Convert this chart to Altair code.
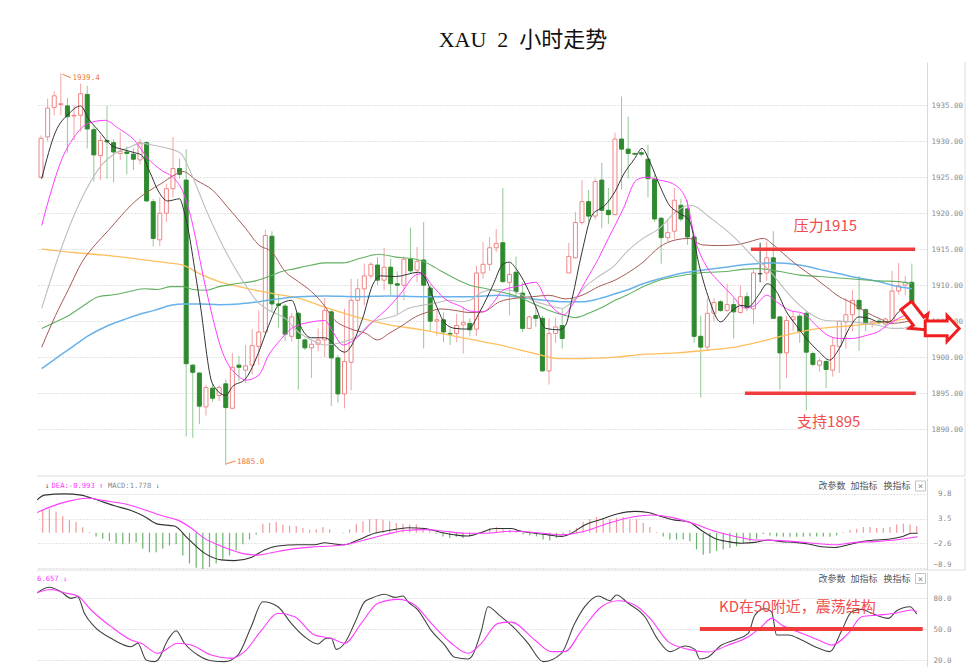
import altair as alt
import pandas as pd

# ---------------- candle data (2-hour bars) ----------------
OPEN = [1925.0, 1930.6, 1934.7, 1935.1, 1934.9, 1933.5, 1933.6, 1936.5, 1931.6, 1928.0,
        1930.1, 1929.8, 1928.3, 1928.5, 1928.2, 1927.4, 1929.8, 1921.6, 1916.3, 1920.0,
        1923.4, 1926.2, 1924.6, 1898.9, 1897.8, 1893.1, 1895.7, 1894.7, 1896.3, 1892.9,
        1898.9, 1898.2, 1898.9, 1901.5, 1903.5, 1916.8, 1907.4, 1907.1, 1902.9, 1906.1,
        1902.4, 1901.3, 1901.8, 1902.4, 1906.3, 1899.9, 1894.9, 1899.3, 1907.9, 1909.5,
        1911.3, 1912.8, 1910.7, 1912.5, 1910.2, 1910.0, 1913.6, 1912.1, 1913.5, 1909.6,
        1905.0, 1905.2, 1903.3, 1903.3, 1904.5, 1904.7, 1903.9, 1911.7, 1912.9, 1915.2,
        1915.9, 1910.4, 1911.8, 1908.9, 1904.0, 1905.8, 1905.4, 1898.1, 1903.3, 1904.4,
        1911.7, 1913.8, 1918.7, 1921.6, 1919.6, 1924.6, 1920.4, 1919.8, 1930.3, 1928.9,
        1928.3, 1928.4, 1927.5, 1924.7, 1919.3, 1916.6, 1917.5, 1921.1, 1920.6, 1916.7,
        1902.9, 1901.4, 1906.1, 1907.7, 1906.5, 1907.3, 1906.2, 1908.4, 1906.7, 1911.6,
        1911.7, 1913.8, 1905.6, 1900.6, 1905.2, 1905.7, 1906.1, 1900.5, 1898.9, 1899.4,
        1898.2, 1901.5, 1904.9, 1905.9, 1907.9, 1906.6, 1904.7, 1905.0, 1904.6, 1905.0,
        1909.2, 1910.0, 1910.4]
HIGH = [1930.8, 1935.9, 1936.9, 1939.4, 1936.0, 1935.0, 1938.0, 1937.7, 1932.0, 1930.8,
        1934.9, 1930.3, 1931.3, 1929.3, 1929.0, 1930.3, 1930.0, 1922.0, 1922.2, 1924.1,
        1930.6, 1927.6, 1928.9, 1899.0, 1897.9, 1896.1, 1896.3, 1896.1, 1896.9, 1900.6,
        1900.2, 1901.7, 1903.9, 1906.5, 1917.7, 1917.5, 1908.7, 1907.4, 1906.1, 1906.3,
        1902.6, 1902.4, 1904.0, 1908.2, 1906.7, 1900.3, 1906.7, 1910.9, 1910.9, 1913.0,
        1913.2, 1913.9, 1915.2, 1913.7, 1911.9, 1914.0, 1918.0, 1915.3, 1918.8, 1910.0,
        1906.5, 1906.2, 1904.0, 1906.0, 1906.9, 1905.4, 1912.7, 1916.0, 1916.7, 1917.8,
        1923.5, 1913.1, 1914.0, 1910.4, 1905.8, 1907.2, 1905.8, 1905.4, 1905.5, 1906.7,
        1915.9, 1920.2, 1924.6, 1923.2, 1924.8, 1927.0, 1923.5, 1931.2, 1936.2, 1933.4,
        1928.4, 1928.8, 1929.5, 1925.3, 1919.5, 1919.2, 1923.5, 1922.0, 1921.8, 1916.7,
        1905.8, 1908.2, 1908.2, 1907.9, 1910.2, 1908.2, 1910.0, 1909.0, 1912.1, 1915.9,
        1916.1, 1917.5, 1905.7, 1905.7, 1906.4, 1906.1, 1906.4, 1900.8, 1899.8, 1899.6,
        1902.8, 1905.0, 1908.2, 1909.3, 1911.3, 1906.8, 1905.0, 1905.3, 1905.5, 1912.0,
        1913.1, 1911.3, 1913.0]
LOW = [1924.8, 1930.0, 1933.6, 1933.6, 1928.4, 1930.1, 1931.3, 1929.0, 1924.4, 1924.6,
       1924.8, 1924.3, 1927.4, 1925.4, 1926.0, 1926.8, 1921.6, 1915.4, 1915.4, 1918.8,
       1922.2, 1924.8, 1889.0, 1888.8, 1890.7, 1891.9, 1893.8, 1893.9, 1885.0, 1892.9,
       1896.7, 1896.4, 1897.6, 1898.9, 1903.3, 1906.4, 1904.1, 1902.2, 1902.2, 1895.5,
       1901.0, 1897.1, 1900.8, 1900.0, 1893.2, 1893.7, 1892.9, 1895.4, 1903.5, 1907.2,
       1910.9, 1910.0, 1909.3, 1908.6, 1906.0, 1907.9, 1911.7, 1910.4, 1901.2, 1903.5,
       1903.0, 1902.1, 1901.7, 1902.1, 1900.5, 1902.9, 1903.0, 1910.9, 1912.0, 1914.6,
       1910.3, 1905.8, 1908.2, 1903.5, 1904.0, 1904.2, 1898.0, 1896.2, 1902.0, 1901.2,
       1911.7, 1913.7, 1918.4, 1918.8, 1919.1, 1917.9, 1918.5, 1919.8, 1923.3, 1924.8,
       1928.0, 1927.9, 1922.2, 1918.8, 1913.0, 1916.0, 1916.4, 1918.8, 1915.6, 1902.0,
       1894.4, 1900.9, 1905.0, 1906.3, 1906.3, 1902.6, 1906.1, 1906.4, 1904.6, 1910.4,
       1910.6, 1905.4, 1895.5, 1897.1, 1903.6, 1902.0, 1892.6, 1898.7, 1898.0, 1895.7,
       1897.3, 1897.8, 1901.2, 1903.6, 1900.9, 1903.6, 1904.1, 1904.5, 1904.0, 1904.5,
       1908.7, 1908.6, 1906.5]
CLOSE = [1930.4, 1934.6, 1936.3, 1935.2, 1933.4, 1933.6, 1936.6, 1931.7, 1928.1, 1930.1,
         1929.9, 1928.5, 1928.6, 1928.3, 1927.5, 1929.8, 1921.7, 1916.5, 1920.0, 1923.4,
         1926.2, 1925.4, 1899.1, 1897.9, 1893.2, 1895.8, 1894.3, 1895.8, 1893.0, 1898.6,
         1898.6, 1898.8, 1901.6, 1903.5, 1916.9, 1907.4, 1907.2, 1903.2, 1905.6, 1902.6,
         1901.3, 1901.8, 1902.4, 1906.5, 1899.9, 1894.9, 1899.4, 1907.9, 1909.5, 1911.3,
         1912.9, 1910.7, 1912.5, 1910.2, 1910.0, 1913.6, 1912.0, 1913.3, 1910.0, 1905.0,
         1905.2, 1903.5, 1903.2, 1904.4, 1904.8, 1903.8, 1911.7, 1912.9, 1915.2, 1915.8,
         1910.5, 1911.5, 1909.1, 1904.0, 1905.6, 1905.4, 1898.1, 1903.3, 1904.2, 1902.6,
         1914.0, 1918.7, 1921.6, 1919.6, 1924.4, 1920.4, 1919.8, 1930.3, 1928.9, 1928.3,
         1928.2, 1928.2, 1924.8, 1919.2, 1916.6, 1917.3, 1921.8, 1919.2, 1916.7, 1902.9,
         1901.4, 1906.1, 1907.6, 1906.5, 1907.3, 1906.3, 1908.4, 1906.9, 1911.7, 1911.6,
         1913.8, 1905.4, 1900.6, 1905.1, 1905.6, 1903.6, 1900.7, 1899.0, 1899.5, 1898.3,
         1901.6, 1905.0, 1905.9, 1907.9, 1906.7, 1904.6, 1904.9, 1904.8, 1905.3, 1909.2,
         1909.9, 1910.4, 1906.7]

# ---------------- moving averages ----------------
MA5_I = [0.1, 2.2, 4.2, 6.0, 7.2, 8.7, 10.7, 12.2, 14.2, 15.2, 16.5, 17.7, 19.2, 21.0, 21.7, 24.0, 26.0, 28.0,
         29.0, 31.0, 33.0, 34.5, 36.0, 38.0, 39.5, 41.0, 43.0, 46.0, 48.75, 50.25, 51.5, 53.75, 57.25, 58.25,
         59.75, 61.25, 62.75, 64.75, 66.5, 68.5, 70.0, 71.0, 72.0, 73.5, 75.0, 76.5, 78.5, 79.5, 80.5, 82.0,
         83.5, 85.5, 87.0, 88.25, 90.0, 91.1, 92.25, 93.75, 95.25, 96.75, 98.25, 99.75, 101.25, 103.0, 104.75,
         106.25, 107.25, 108.75, 110.1, 111.5, 113.0, 114.5, 116.0, 118.0, 119.5, 121.0, 122.5, 124.0, 125.5,
         127.0, 128.5, 130.0, 132.0]
MA5_V = [1924.8, 1931.3, 1933.8, 1934.9, 1933.1, 1931.5, 1929.4, 1928.9, 1928.4, 1928.1, 1925.7, 1923.2,
         1921.7, 1922.0, 1920.2, 1908.1, 1896.3, 1894.7, 1895.9, 1897.0, 1900.7, 1904.4, 1907.2, 1907.9,
         1904.0, 1902.7, 1902.7, 1900.7, 1905.4, 1910.0, 1911.3, 1911.2, 1911.8, 1911.0, 1907.5, 1904.7,
         1904.0, 1903.9, 1906.3, 1910.0, 1912.9, 1913.2, 1912.3, 1910.0, 1907.0, 1904.0, 1903.8, 1904.4,
         1908.1, 1914.6, 1919.7, 1921.1, 1923.0, 1925.3, 1927.6, 1929.0, 1927.2, 1923.9, 1921.1, 1920.0,
         1919.0, 1912.8, 1908.1, 1904.9, 1906.5, 1907.2, 1907.0, 1908.6, 1910.2, 1909.1, 1906.3, 1904.4,
         1902.6, 1900.7, 1899.6, 1901.2, 1904.0, 1905.6, 1905.4, 1904.9, 1904.9, 1906.3, 1907.9]
MA10_I = [0.1, 1.2, 3.2, 5.2, 7.2, 9.7, 11.7, 14.2, 16.2, 18.2, 20.2, 21.5, 22.5, 25.0, 27.5, 30.0, 31.0, 33.0,
          34.5, 36.0, 38.0, 41.0, 43.0, 44.25, 45.75, 47.75, 50.25, 52.75, 54.75, 56.75, 57.75, 59.25, 61.25,
          63.75, 65.0, 67.0, 68.5, 70.0, 72.0, 75.0, 76.5, 78.0, 79.25, 80.5, 82.5, 84.5, 86.0, 87.0, 88.25,
          90.25, 91.75, 93.75, 95.75, 97.75, 99.25, 100.75, 102.75, 104.75, 106.75, 108.25, 110.0, 111.5,
          113.5, 115.5, 117.5, 119.0, 121.0, 123.0, 125.0, 127.0, 128.5, 130.0, 132.0]
MA10_V = [1918.3, 1922.0, 1927.6, 1930.8, 1932.5, 1932.9, 1931.8, 1930.1, 1927.6, 1926.0, 1924.8, 1923.0,
          1920.2, 1909.5, 1900.7, 1897.3, 1896.8, 1897.5, 1900.3, 1902.1, 1904.0, 1904.9, 1905.1, 1903.5,
          1901.7, 1902.6, 1904.9, 1907.0, 1909.1, 1911.4, 1911.6, 1910.0, 1908.1, 1907.0, 1906.4, 1906.3,
          1907.5, 1909.3, 1909.8, 1910.4, 1908.1, 1906.5, 1905.9, 1907.2, 1910.5, 1913.7, 1916.5, 1918.3,
          1920.6, 1924.6, 1925.0, 1924.6, 1924.1, 1922.0, 1916.0, 1912.8, 1910.5, 1908.6, 1906.8, 1907.2,
          1908.6, 1907.7, 1906.5, 1906.1, 1904.4, 1903.2, 1902.6, 1902.6, 1903.0, 1903.6, 1904.6, 1905.4,
          1906.3]
MA20_I = [0.1, 2.2, 4.2, 6.7, 9.2, 11.2, 13.2, 15.2, 17.2, 19.7, 21.2, 23.0, 25.0, 27.0, 29.0, 31.0, 33.0,
          35.0, 37.0, 39.0, 41.0, 43.0, 45.75, 47.75, 50.25, 52.25, 53.75, 55.75, 57.75, 59.75, 61.75, 63.75,
          65.0, 67.0, 69.0, 71.0, 73.0, 75.0, 77.0, 79.0, 80.5, 82.5, 84.5, 87.0, 88.75, 91.25, 93.75, 96.25,
          98.25, 99.25, 101.25, 103.25, 105.25, 107.25, 108.75, 109.5, 111.0, 113.0, 115.0, 117.0, 119.0,
          121.0, 123.0, 125.0, 127.0, 129.0, 130.5, 132.0]
MA20_V = [1906.8, 1912.8, 1917.9, 1923.0, 1926.7, 1928.3, 1929.1, 1929.7, 1929.4, 1928.9, 1928.3, 1925.0,
          1920.5, 1916.5, 1913.0, 1910.0, 1907.5, 1906.3, 1905.4, 1903.5, 1902.4, 1901.7, 1902.1, 1902.8,
          1904.9, 1905.4, 1905.8, 1906.8, 1907.2, 1907.5, 1907.9, 1907.7, 1907.9, 1909.1, 1909.4, 1909.3,
          1908.6, 1907.7, 1907.2, 1906.8, 1907.7, 1909.8, 1911.2, 1912.8, 1914.6, 1916.5, 1917.9, 1920.2,
          1921.1, 1920.9, 1919.5, 1918.1, 1916.5, 1914.6, 1913.2, 1912.8, 1911.4, 1909.1, 1907.2, 1905.8,
          1905.1, 1905.0, 1904.9, 1904.7, 1904.4, 1904.0, 1904.0, 1904.4]
MA30_I = [0.1, 2.2, 4.2, 6.2, 8.2, 10.2, 12.2, 14.2, 16.2, 18.2, 20.2, 21.5, 23.5, 26.0, 28.5, 31.0, 33.0,
          35.0, 37.0, 39.0, 41.0, 43.0, 44.25, 46.75, 49.25, 51.0, 52.75, 54.75, 56.75, 58.75, 60.75, 62.75,
          65.0, 67.0, 69.5, 72.0, 74.5, 77.0, 79.5, 82.0, 84.5, 87.0, 88.75, 91.25, 93.75, 96.25, 98.25,
          100.25, 102.75, 105.25, 107.25, 109.5, 111.0, 113.0, 115.0, 117.0, 119.0, 121.0, 123.0, 125.0,
          127.0, 129.0, 131.0, 132.0]
MA30_V = [1901.4, 1905.8, 1909.5, 1913.2, 1915.6, 1917.6, 1919.7, 1921.6, 1923.0, 1924.1, 1925.3, 1925.8,
          1924.6, 1923.2, 1920.6, 1917.9, 1915.6, 1914.6, 1911.9, 1910.5, 1909.1, 1907.1, 1905.4, 1904.0,
          1903.3, 1902.4, 1903.3, 1904.4, 1905.6, 1906.3, 1906.7, 1906.5, 1906.2, 1906.3, 1907.7, 1908.2,
          1908.4, 1908.6, 1908.1, 1908.6, 1909.8, 1910.7, 1911.6, 1913.2, 1915.3, 1916.3, 1916.5, 1915.6,
          1915.5, 1915.6, 1916.0, 1916.5, 1915.6, 1914.0, 1912.5, 1911.2, 1909.8, 1908.4, 1907.5, 1906.3,
          1905.4, 1904.7, 1904.9, 1905.1]
MA60_I = [0.1, 2.2, 4.2, 6.2, 8.7, 11.2, 13.7, 15.7, 17.7, 19.7, 21.5, 23.0, 25.0, 27.0, 29.5, 32.5, 34.5,
          36.5, 38.5, 41.0, 43.2, 45.75, 48.25, 51.25, 53.75, 56.25, 58.25, 60.75, 63.25, 65.0, 67.0, 69.5,
          72.0, 74.5, 77.0, 79.5, 81.0, 83.0, 85.0, 87.0, 88.75, 91.25, 93.75, 96.25, 98.75, 101.25, 103.75,
          106.25, 108.75, 110.0, 112.0, 115.0, 118.0, 121.0, 124.0, 127.0, 130.0, 132.0]
MA60_V = [1904.0, 1904.9, 1905.8, 1907.0, 1908.4, 1908.7, 1909.2, 1909.5, 1909.4, 1909.8, 1909.8, 1909.4,
          1909.3, 1909.8, 1910.2, 1910.6, 1911.2, 1911.9, 1912.3, 1912.8, 1913.1, 1913.1, 1913.7, 1914.3,
          1913.9, 1913.7, 1913.2, 1911.9, 1910.7, 1910.0, 1909.6, 1909.1, 1908.5, 1907.5, 1906.5, 1905.8,
          1905.5, 1906.1, 1906.9, 1907.9, 1908.6, 1909.8, 1910.7, 1911.2, 1911.6, 1911.8, 1911.9, 1912.2,
          1912.3, 1912.2, 1911.9, 1911.4, 1911.2, 1911.0, 1910.8, 1910.6, 1910.5, 1910.2]
MA120_I = [0.1, 2.2, 4.7, 7.2, 9.7, 12.2, 14.7, 17.2, 19.7, 21.5, 24.0, 27.0, 30.0, 33.0, 36.0, 39.0, 43.2,
           47.75, 52.75, 57.75, 65.0, 69.5, 74.5, 79.5, 82.0, 84.5, 87.0, 88.75, 91.25, 93.75, 96.25, 98.75,
           101.25, 103.75, 106.25, 108.75, 110.0, 112.0, 115.0, 118.0, 121.0, 124.0, 127.0, 129.0, 132.0]
MA120_V = [1898.4, 1899.8, 1901.4, 1903.0, 1904.2, 1905.1, 1905.9, 1906.5, 1907.2, 1907.4, 1907.4, 1907.3,
           1907.4, 1907.7, 1908.1, 1908.4, 1908.5, 1908.4, 1908.5, 1908.4, 1908.4, 1908.6, 1908.1, 1907.7,
           1907.7, 1908.1, 1908.8, 1909.3, 1910.2, 1910.9, 1911.5, 1911.9, 1912.2, 1912.5, 1912.8, 1913.0,
           1913.1, 1913.1, 1912.8, 1912.2, 1911.6, 1911.0, 1910.5, 1910.0, 1909.5]
MA250_I = [0.1, 4.2, 9.2, 14.2, 19.2, 21.5, 24.0, 27.0, 30.0, 33.0, 36.0, 39.0, 43.2, 47.75, 52.75, 57.75,
           65.0, 69.5, 74.5, 78.5, 82.0, 87.0, 91.25, 96.25, 101.25, 105.25, 108.75, 113.0, 118.0, 123.0,
           128.0, 132.0]
MA250_V = [1915.0, 1914.6, 1914.2, 1913.7, 1913.1, 1912.8, 1911.6, 1910.5, 1909.8, 1909.2, 1908.7, 1908.2,
           1906.9, 1905.6, 1904.5, 1903.8, 1902.5, 1901.7, 1900.6, 1899.8, 1899.8, 1900.0, 1900.4, 1900.6,
           1901.0, 1901.4, 1902.1, 1903.1, 1904.0, 1904.4, 1904.9, 1905.5]

# ---------------- MACD ----------------
HIST = [5.6, 5.9, 6.0, 5.4, 4.2, 3.2, 2.7, 1.4, 0.2, -0.9, -1.5, -2.1, -2.7, -2.9, -2.7, -2.4, -4.0, -4.9,
        -4.9, -4.0, -3.2, -2.9, -5.7, -7.7, -8.8, -9.1, -8.6, -7.7, -6.5, -5.7, -4.4, -2.9, -1.7, -0.4, 2.3,
        2.5, 2.7, 2.1, 1.8, 1.7, 1.2, 0.8, 0.9, 1.5, 0.9, 0.1, -0.1, 0.9, 2.3, 2.9, 3.5, 3.5, 3.3, 2.9, 2.5,
        2.3, 2.1, 2.1, 1.2, 0.7, -0.2, -0.9, -1.3, -1.0, -1.3, -0.9, 0.0, 0.4, 1.2, 1.5,
        1.0, 0.8, 0.6, -0.4, -0.7, -0.9, -1.7, -1.9, -1.3, -0.4, 0.7, 1.2, 2.7, 3.5, 4.0, 3.8, 3.5, 3.8, 4.0,
        3.5, 3.5, 2.5, 1.5, 0.2, -0.9, -1.7, -1.7, -1.7, -2.1, -4.2, -5.5, -5.2, -4.6, -4.2, -3.8, -3.4, -2.7,
        -2.1, -1.5, -0.3, -0.7, -0.9, -1.0, -1.0, -1.0, -1.0, -0.9, -0.9, -0.9, -1.0, -0.7, 0.2, 0.7, 1.0,
        1.5, 1.5, 1.2, 1.2, 1.5, 2.1, 2.3, 2.1, 1.7]
DIF_I = [0.15, 1.25, 4.25, 6.75, 8.75, 11.75, 14.25, 16.25, 18.25, 20.75, 22.75, 25.25, 27.75, 29.75, 32.25,
         34.25, 36.25, 39.25, 41.75, 43.25, 44.75, 46.25, 48.25, 50.75, 53.25, 55.75, 58.25, 60.75, 62.75,
         64.75, 66.75, 68.75, 71.25, 72.25, 74.75, 76.75, 78.75, 80.25, 82.25, 84.75, 87.25, 89.75, 91.75,
         93.75, 95.75, 97.75, 99.75, 101.75, 103.75, 105.75, 107.75, 109.75, 111.75, 113.75, 115.75, 117.75,
         119.75, 121.75, 123.75, 125.75, 127.75, 129.75, 131.25, 132.15]
DIF_V = [8.3, 9.5, 9.8, 9.5, 8.5, 6.8, 5.6, 4.1, 2.2, 1.7, -1.4, -5.1, -6.8, -7.0, -6.2, -4.3, -3.3, -3.0,
         -3.0, -2.5, -2.8, -3.0, -1.8, -0.1, 0.7, 1.3, 1.1, 0.1, -0.5, -0.8, 0.1, 1.1, 1.1, 0.6, -0.1, -0.5,
         -0.9, -0.1, 2.0, 3.4, 4.8, 5.4, 5.1, 4.1, 3.2, 2.8, 0.6, -1.4, -2.2, -2.6, -2.4, -1.8, -2.2, -2.4,
         -2.8, -3.5, -3.7, -3.0, -2.2, -1.8, -1.6, -1.0, -0.1, -0.1]
DEA_I = [0.15, 2.25, 5.25, 7.75, 10.25, 13.25, 16.25, 19.25, 21.25, 23.25, 25.25, 27.25, 29.25, 31.25, 33.25,
         35.25, 38.25, 41.25, 44.25, 46.25, 49.25, 52.25, 55.25, 58.25, 61.25, 64.25, 67.25, 71.25, 74.75,
         78.75, 82.25, 85.75, 89.75, 92.25, 95.75, 98.75, 101.75, 104.75, 107.75, 110.75, 113.75, 117.75,
         119.75, 122.75, 125.75, 128.75, 132.15]
DEA_V = [5.1, 6.6, 8.1, 8.7, 8.1, 7.3, 5.8, 4.1, 3.2, 1.2, -1.4, -3.0, -4.3, -5.3, -5.6, -5.0, -4.1, -3.6,
         -3.3, -3.0, -1.8, -0.5, 0.6, 0.8, 0.4, -0.1, -0.1, 0.4, 0.1, -0.5, 0.4, 2.4, 4.1, 4.5, 3.7, 2.2, 0.4,
         -0.9, -1.8, -1.9, -2.2, -2.8, -3.0, -2.4, -2.2, -1.8, -1.0]

# ---------------- KD ----------------
K_I = [0.15, 2.0, 3.75, 5.25, 6.25, 7.25, 8.75, 11.25, 14.25, 15.25, 16.5, 17.75, 18.25, 19.75, 21.0, 22.25,
       24.25, 26.25, 28.25, 30.25, 32.25, 34.0, 36.25, 38.25, 40.25, 42.25, 43.5, 44.25, 45.0, 46.25, 47.75,
       49.25, 50.25, 52.25, 53.75, 55.0, 55.75, 57.25, 59.25, 61.25, 62.75, 64.75, 65.25, 66.75, 67.75, 69.5,
       71.5, 73.75, 76.0, 78.75, 80.75, 82.25, 84.25, 86.0, 87.0, 88.75, 91.25, 93.25, 95.0, 97.25, 98.75,
       99.5, 100.75, 102.75, 104.75, 106.75, 107.75, 109.25, 110.25, 111.0, 112.75, 114.75, 116.75, 119.0,
       120.75, 122.25, 123.75, 125.25, 127.75, 129.0, 131.0, 132.0]
K_V = [85.1, 90.4, 86.1, 79.7, 81.3, 65.2, 52.3, 41.0, 32.9, 36.2, 20.0, 18.4, 20.0, 39.4, 48.4, 36.2, 24.8,
       19.3, 18.4, 24.8, 52.3, 76.4, 71.6, 55.5, 42.5, 35.5, 41.0, 41.0, 30.3, 36.2, 55.5, 76.4, 79.7, 83.6,
       80.6, 82.0, 76.4, 68.4, 48.4, 34.5, 22.6, 21.0, 23.0, 48.4, 71.6, 63.0, 52.0, 36.2, 18.4, 26.5, 55.5,
       71.6, 82.0, 77.4, 83.0, 75.0, 61.9, 39.4, 28.1, 33.5, 30.3, 21.0, 23.0, 34.5, 39.4, 45.8, 63.5, 69.8,
       66.7, 44.2, 44.2, 39.4, 32.9, 28.1, 48.4, 66.7, 69.0, 65.2, 60.3, 67.7, 71.6, 64.5]
D_I = [0.15, 2.25, 4.25, 6.25, 8.25, 11.25, 14.25, 15.75, 18.25, 21.25, 23.25, 26.25, 29.25, 31.25, 33.75,
       36.25, 38.75, 41.75, 44.25, 46.25, 48.75, 51.25, 54.25, 56.75, 59.25, 62.25, 64.75, 66.75, 69.25,
       71.25, 74.75, 77.25, 79.25, 81.75, 84.75, 87.25, 89.75, 92.25, 94.75, 97.75, 100.75, 103.75, 106.75,
       108.75, 110.25, 111.75, 114.75, 117.25, 119.25, 121.75, 123.75, 126.25, 128.75, 131.25, 132.0]
D_V = [85.1, 88.3, 85.1, 82.0, 68.4, 52.3, 39.4, 36.2, 26.5, 36.2, 34.5, 24.8, 21.6, 28.1, 48.4, 65.2, 61.9,
       44.2, 41.0, 36.2, 55.5, 75.0, 78.7, 73.3, 55.5, 36.2, 26.5, 36.2, 55.5, 56.7, 39.4, 28.1, 28.1, 48.4,
       71.6, 77.4, 73.3, 58.7, 37.8, 30.3, 27.8, 34.5, 42.5, 52.3, 60.3, 53.9, 45.8, 39.4, 34.5, 45.8, 61.9,
       63.5, 65.2, 68.4, 66.7]

# ---------------- annotations ----------------
PRICE_TICKS = [1890, 1895, 1900, 1905, 1910, 1915, 1920, 1925, 1930, 1935]
MACD_TICKS = [9.8, 3.5, -2.6, -8.9]
KD_TICKS = [20, 50, 80]
LEVEL_X1 = [107.6, 106.7]
LEVEL_X2 = [132.5, 132.6]
LEVEL_Y = [1915, 1895]
LEVEL_TEXT = ["压力1915", "支持1895"]
LEVEL_TEXT_X = [118.9, 119.4]
LEVEL_TEXT_Y = [1918.2, 1891.0]
EXT_TEXT = ["1939.4", "1885.0"]
EXT_X1 = [3.25, 28.1]
EXT_Y1 = [1939.3, 1885.2]
EXT_X2 = [4.5, 29.5]
EXT_Y2 = [1938.8, 1885.6]
EXT_TX = [4.75, 29.7]
EXT_TY = [1938.75, 1885.4]
ARROW_X = [132.6, 136.6]
ARROW_Y = [1905.5, 1904.0]
ARROW_ANGLE = [52, 0]
ARROW_SIZE = [950, 1150]
KD_LINE = [99.5, 132.9, 50]
KD_NOTE = ["KD在50附近，震荡结构", 114.1, 71.3]
TITLE = "XAU\u00a0\u00a02\u00a0\u00a0小时走势"

W = 890
H_MAIN, H_MACD, H_KD = 414, 92, 100
X_DOMAIN = [0.145, 133.54]
P_DOMAIN = [1883.5, 1941.0]
MACD_DOMAIN = [-9.35, 13.8]
KD_DOMAIN = [8.4, 105.2]
RED = "#f03c3c"
MONO = "DejaVu Sans Mono"
CJK = "Noto Sans CJK SC"

xs = alt.Scale(domain=X_DOMAIN, nice=False, zero=False)
ONE = pd.DataFrame({"k": [0]})


def yaxis(values, fmt, align, pad, flush=False):
    return alt.Axis(orient="right", values=values, format=fmt, grid=True, gridDash=[1, 2],
                    gridColor="#c8c8c8", ticks=False, domain=True, domainColor="#d9d9d9",
                    labelFont=MONO, labelFontSize=7.5, labelColor="#8c8c8c", labelAlign=align,
                    labelPadding=pad, labelFlush=flush, title=None)


AX_P = yaxis(PRICE_TICKS, ".2f", "left", 4)
AX_M = yaxis(MACD_TICKS, ".1f", "right", 24, 6)
AX_K = yaxis(KD_TICKS, ".1f", "right", 24)
YP = alt.Scale(domain=P_DOMAIN, nice=False, zero=False)
YM = alt.Scale(domain=MACD_DOMAIN, nice=False, zero=False)
YK = alt.Scale(domain=KD_DOMAIN, nice=False, zero=False)


def text_px(txt, x, y, color, font=MONO, size=7.2, align="left"):
    return alt.Chart(ONE).mark_text(text=txt, font=font, fontSize=size, color=color, align=align,
                                    baseline="middle").encode(x=alt.value(x), y=alt.value(y))


def frame(height):
    bottom = alt.Chart(ONE).mark_rule(color="#dddddd").encode(
        x=alt.value(0), x2=alt.value(W + 38), y=alt.value(height))
    right = alt.Chart(ONE).mark_rule(color="#dddddd").encode(
        x=alt.value(W + 38), y=alt.value(0), y2=alt.value(height))
    return [bottom, right]


def tools(y):
    return [text_px("改参数", 795, y, "#555555", CJK, 9, "center"),
            text_px("加指标", 827, y, "#555555", CJK, 9, "center"),
            text_px("换指标", 860, y, "#555555", CJK, 9, "center"),
            alt.Chart(ONE).mark_point(shape="square", size=100, filled=False, color="#aaaaaa",
                                      strokeWidth=1).encode(x=alt.value(883.5), y=alt.value(y)),
            text_px("×", 883.5, y, "#888888", MONO, 9, "center")]


# ---------------- main price panel ----------------
kind = ["up" if c > o else ("down" if c < o else "flat") for o, c in zip(OPEN, CLOSE)]
WICK_COL = {"up": "#f3a3a3", "down": "#93c993", "flat": "#444444"}
BODY_COL = {"up": "#ffffff", "down": "#2f8a2f", "flat": "#444444"}
EDGE_COL = {"up": "#ee8585", "down": "#2f8a2f", "flat": "#444444"}
cdf = pd.DataFrame({"i": list(range(len(OPEN))), "o": OPEN, "h": HIGH, "l": LOW, "c": CLOSE,
                    "wick": [WICK_COL[k] for k in kind], "body": [BODY_COL[k] for k in kind],
                    "edge": [EDGE_COL[k] for k in kind]})
base = alt.Chart(cdf)
X = alt.X("i:Q", scale=xs, axis=None)
wicks = base.mark_rule(strokeWidth=1, clip=True).encode(
    x=X, y=alt.Y("l:Q", scale=YP, axis=AX_P), y2="h:Q", color=alt.Color("wick:N", scale=None))
bodies = base.mark_bar(size=4, strokeWidth=1, clip=True).encode(
    x=X, y=alt.Y("o:Q", scale=YP, axis=AX_P), y2="c:Q",
    fill=alt.Fill("body:N", scale=None), stroke=alt.Stroke("edge:N", scale=None))

MAS = [(MA250_I, MA250_V, "#ffbf5e", 1.3), (MA120_I, MA120_V, "#68b2ea", 1.5),
       (MA60_I, MA60_V, "#62b062", 1.1), (MA30_I, MA30_V, "#a65b55", 1.0),
       (MA20_I, MA20_V, "#bdbdbd", 1.1), (MA10_I, MA10_V, "#ff3cff", 1.0),
       (MA5_I, MA5_V, "#333333", 1.0)]
ma_layers = []
for mi, mv, col, wd in MAS:
    ma_layers.append(alt.Chart(pd.DataFrame({"i": mi, "v": mv})).mark_line(
        color=col, strokeWidth=wd, clip=True, interpolate="monotone").encode(
        x=X, y=alt.Y("v:Q", scale=YP, axis=AX_P)))

lv = pd.DataFrame({"x1": LEVEL_X1, "x2": LEVEL_X2, "y": LEVEL_Y})
levels = alt.Chart(lv).mark_rule(color=RED, strokeWidth=3.5).encode(
    x=alt.X("x1:Q", scale=xs, axis=None), x2="x2:Q", y=alt.Y("y:Q", scale=YP, axis=AX_P))
lt = pd.DataFrame({"t": LEVEL_TEXT, "x": LEVEL_TEXT_X, "y": LEVEL_TEXT_Y})
level_text = alt.Chart(lt).mark_text(font=CJK, fontSize=15, color="#f24c4c").encode(
    x=alt.X("x:Q", scale=xs, axis=None), y=alt.Y("y:Q", scale=YP, axis=AX_P), text="t:N")
ex = pd.DataFrame({"t": EXT_TEXT, "x1": EXT_X1, "y1": EXT_Y1, "x2": EXT_X2, "y2": EXT_Y2,
                   "tx": EXT_TX, "ty": EXT_TY})
ext_lines = alt.Chart(ex).mark_rule(color="#f08040", strokeWidth=1).encode(
    x=alt.X("x1:Q", scale=xs, axis=None), x2="x2:Q", y=alt.Y("y1:Q", scale=YP, axis=AX_P), y2="y2:Q")
ext_text = alt.Chart(ex).mark_text(font=MONO, fontSize=7.6, color="#f07838", align="left",
                                   baseline="middle").encode(
    x=alt.X("tx:Q", scale=xs, axis=None), y=alt.Y("ty:Q", scale=YP, axis=AX_P), text="t:N")

ARROW = "M-1,-0.43L0.29,-0.43L0.29,-0.76L1,0L0.29,0.76L0.29,0.43L-1,0.43Z"
arrows = []
for ax_, ay_, aa_, as_ in zip(ARROW_X, ARROW_Y, ARROW_ANGLE, ARROW_SIZE):
    arrows.append(alt.Chart(pd.DataFrame({"x": [ax_], "y": [ay_]})).mark_point(
        shape=ARROW, angle=aa_, size=as_, filled=True, fill="#ffffff", stroke="#f01e1e",
        strokeWidth=3, opacity=1).encode(
        x=alt.X("x:Q", scale=xs, axis=None), y=alt.Y("y:Q", scale=YP, axis=AX_P)))

main = alt.layer(wicks, bodies, *ma_layers, levels, level_text, ext_lines, ext_text, *arrows,
                 *frame(H_MAIN)).properties(width=W, height=H_MAIN)

# ---------------- MACD panel ----------------
hdf = pd.DataFrame({"i": list(range(len(HIST))), "h": HIST, "z": [0.0] * len(HIST),
                    "col": ["#f29a9a" if v >= 0 else "#6cb46c" for v in HIST]})
hist = alt.Chart(hdf).mark_rule(strokeWidth=1.2, clip=True).encode(
    x=X, y=alt.Y("z:Q", scale=YM, axis=AX_M), y2="h:Q", color=alt.Color("col:N", scale=None))
dif = alt.Chart(pd.DataFrame({"i": DIF_I, "v": DIF_V})).mark_line(
    color="#333333", strokeWidth=1.1, clip=True, interpolate="monotone").encode(
    x=X, y=alt.Y("v:Q", scale=YM, axis=AX_M))
dea = alt.Chart(pd.DataFrame({"i": DEA_I, "v": DEA_V})).mark_line(
    color="#ff3cff", strokeWidth=1.1, clip=True, interpolate="monotone").encode(
    x=X, y=alt.Y("v:Q", scale=YM, axis=AX_M))
macd_head = [text_px("↓", 8, 8, "#555555"), text_px("DEA:-0.993 ↑", 14.5, 8, "#ff33ff"),
             text_px("MACD:1.778 ↓", 71, 8, "#8a8a8a")]
macd = alt.layer(hist, dif, dea, *macd_head, *tools(8), *frame(H_MACD)).properties(
    width=W, height=H_MACD)

# ---------------- KD panel ----------------
kline = alt.Chart(pd.DataFrame({"i": K_I, "v": K_V})).mark_line(
    color="#444444", strokeWidth=1.1, clip=True, interpolate="monotone").encode(
    x=X, y=alt.Y("v:Q", scale=YK, axis=AX_K))
dline = alt.Chart(pd.DataFrame({"i": D_I, "v": D_V})).mark_line(
    color="#ff3cff", strokeWidth=1.1, clip=True, interpolate="monotone").encode(
    x=X, y=alt.Y("v:Q", scale=YK, axis=AX_K))
kd_rule = alt.Chart(pd.DataFrame({"x1": [KD_LINE[0]], "x2": [KD_LINE[1]], "y": [KD_LINE[2]]})).mark_rule(
    color=RED, strokeWidth=4).encode(x=alt.X("x1:Q", scale=xs, axis=None), x2="x2:Q",
                                     y=alt.Y("y:Q", scale=YK, axis=AX_K))
kd_note = alt.Chart(pd.DataFrame({"t": [KD_NOTE[0]], "x": [KD_NOTE[1]], "y": [KD_NOTE[2]]})).mark_text(
    font=CJK, fontSize=15, color="#f24c4c").encode(
    x=alt.X("x:Q", scale=xs, axis=None), y=alt.Y("y:Q", scale=YK, axis=AX_K), text="t:N")
kd = alt.layer(kline, dline, kd_rule, kd_note, text_px("6.657 ↓", 0, 6.5, "#ff33ff"),
               *tools(6.5)).properties(width=W, height=H_KD)

chart = alt.vconcat(main, macd, kd, spacing=0).properties(
    title=alt.TitleParams(TITLE, font="Liberation Serif, Noto Sans CJK SC", fontSize=22,
                          fontWeight="normal", color="#111111", anchor="middle", offset=10, dx=22),
    padding={"left": 28, "top": 20, "right": 0, "bottom": 0},
).configure_view(stroke=None)

chart.save("out.html", embed_options={"renderer": "svg", "actions": False})
